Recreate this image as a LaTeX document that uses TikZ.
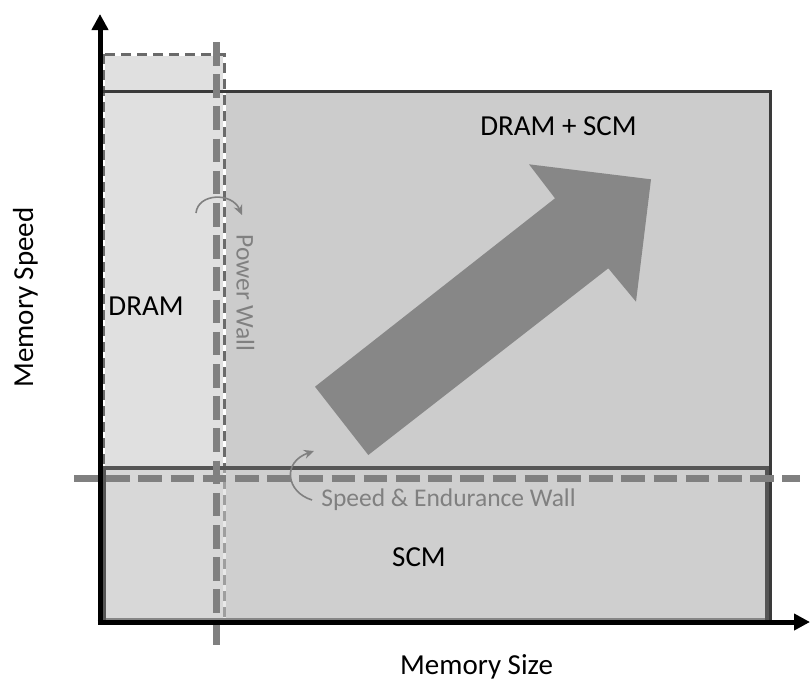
\documentclass[tikz,border=0pt]{standalone}
\usepackage{fontspec}
\setmainfont{Carlito}
\usetikzlibrary{arrows.meta}
\definecolor{boxfill}{HTML}{CCCCCC}
\definecolor{dramfill}{HTML}{E0E0E0}
\definecolor{scmfill}{HTML}{D2D2D2}
\definecolor{edgedark}{HTML}{3A3A3A}
\definecolor{edgemid}{HTML}{555555}
\definecolor{wallgray}{HTML}{808080}
\definecolor{dashgray}{HTML}{6A6A6A}
\definecolor{arrowgray}{HTML}{878787}
\begin{document}
\begin{tikzpicture}[x=1pt,y=-1pt,
  lbl/.style={font=\fontsize{29}{34}\selectfont, text=black, inner sep=0pt, anchor=base},
  walltext/.style={font=\fontsize{25.5}{30}\selectfont, text=wallgray, inner sep=0pt, anchor=base},
  wallline/.style={draw=wallgray, line width=7pt, dash pattern=on 23.5pt off 8.7pt},
  axisline/.style={draw=black, line width=5pt, -{Triangle[width=16pt,length=16pt]}},
  curvedarrow/.style={draw=wallgray, line width=1.6pt, -{Stealth[width=9pt,length=10pt]}}
]
\useasboundingbox (0,0) rectangle (810,683);
% DRAM + SCM box (fill)
\fill[boxfill] (100,91.5) rectangle (770.5,620);
% DRAM box
\fill[dramfill] (103,54) rectangle (224,619);
\draw[white, line width=3pt] (103,54) rectangle (224,619);
\draw[dashgray, line width=3pt, dash pattern=on 10pt off 6pt] (103,54) rectangle (224,619);
% DRAM + SCM box outline
\draw[edgedark, line width=3.5pt] (100,91.5) rectangle (770.5,620);
% SCM box
\fill[scmfill, fill opacity=0.5] (104,468) rectangle (767,620);
\draw[edgemid, line width=3.5pt] (104,620) -- (104,468) -- (767,468) -- (767,620);
% walls
\coordinate (pwtop) at (216.5,42);
\coordinate (pwbot) at (216.5,646);
\coordinate (sewl) at (74,478);
\coordinate (sewr) at (800,478);
\draw[wallline] (pwtop) -- (pwbot);
\draw[wallline] (sewl) -- (sewr);
% big arrow
\fill[arrowgray] (315,386.7) -- (368.3,455) -- (608.3,268.3) -- (636,301.7)
  -- (651,179.3) -- (529,164.3) -- (555,198.3) -- cycle;
% labels
\node[lbl] (dramscm) at (558.5,135) {DRAM + SCM};
\node[lbl] (dram) at (146,315.5) {DRAM};
\node[lbl] (scm) at (419,566) {SCM};
\node[lbl] (xlab) at (476.5,674) {Memory Size};
\node[lbl, rotate=90] (ylab) at (33,297.5) {Memory Speed};
\node[walltext, rotate=-90] (pw) at (236.5,293) {Power Wall};
\node[walltext] (sew) at (448.5,506) {Speed \& Endurance Wall};
% small curved arrows
\coordinate (pwa) at (196,213);
\coordinate (pwb) at (242,215);
\draw[curvedarrow] (pwa) .. controls (198,193) and (232,192) .. (pwb);
\coordinate (sea) at (312,500);
\coordinate (seb) at (314,451);
\draw[curvedarrow] (sea) .. controls (286,492) and (282,462) .. (seb);
% axes
\coordinate (origin) at (100,622);
\coordinate (ytip) at (100,14);
\coordinate (xtip) at (810,622);
\coordinate (xstart) at (97.5,622);
\draw[axisline] (origin) -- (ytip);
\draw[axisline] (xstart) -- (xtip);
\end{tikzpicture}
\end{document}
